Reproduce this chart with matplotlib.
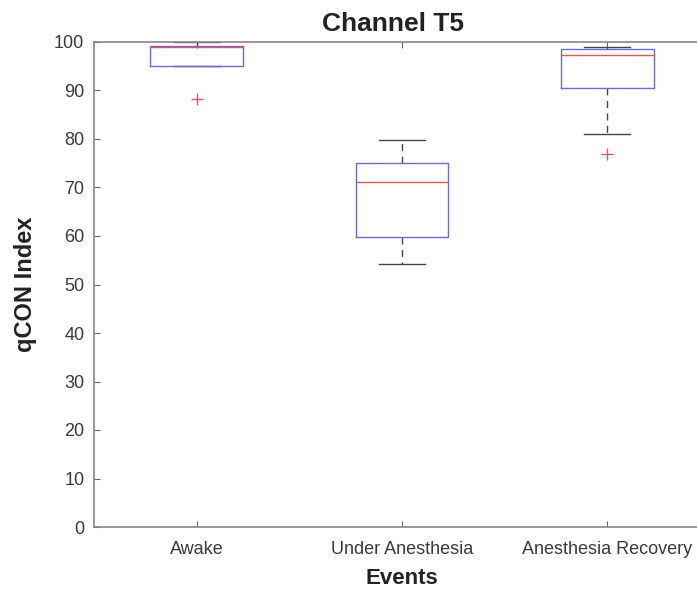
import matplotlib
matplotlib.use("Agg")
import matplotlib.pyplot as plt

categories = ["Awake", "Under Anesthesia", "Anesthesia Recovery"]
q1 = [95.1, 59.7, 90.6]
med = [98.9, 71.2, 97.3]
q3 = [99.2, 75.0, 98.6]
whislo = [95.1, 54.2, 81.0]
whishi = [99.9, 79.8, 99.0]
outliers = [[88.2], [], [77.0]]
yticks = list(range(0, 101, 10))

plt.rcParams['font.family'] = ['Liberation Sans', 'DejaVu Sans']

fig = plt.figure(figsize=(6.97, 5.89), dpi=100)
ax = fig.add_axes([94/697, (589-527)/589, (710-94)/697, (527-42)/589])

stats = []
for i, c in enumerate(categories):
    stats.append(dict(label=c, q1=q1[i], med=med[i], q3=q3[i],
                      whislo=whislo[i], whishi=whishi[i], fliers=outliers[i]))

box_c = '#6b6bd6'
ax.bxp(stats, positions=[1, 2, 3], widths=0.45, capwidths=0.225,
       boxprops=dict(color=box_c, linewidth=1.0, zorder=3),
       medianprops=dict(color='#d65a5a', linewidth=1.0, zorder=4),
       whiskerprops=dict(color='#444444', linewidth=1.0, linestyle=(0, (5, 4)), zorder=2),
       capprops=dict(color='#444444', linewidth=1.0, zorder=2),
       flierprops=dict(marker='+', markeredgecolor='#d65a5a', markersize=8,
                       markeredgewidth=1.0, linestyle='none'))

ax.set_xlim(0.5, 3.5)
ax.set_ylim(0, 100)
ax.set_yticks(yticks)
ax.set_xticks([1, 2, 3])
ax.set_xticklabels(categories)
ax.tick_params(direction='in', top=True, right=True, colors='#666666',
               labelcolor='#3a3a3a', labelsize=13, length=4)
ax.tick_params(axis='x', pad=10)
ax.tick_params(axis='y', pad=7)
for s in ax.spines.values():
    s.set_color('#888888')
    s.set_linewidth(1.2)

ax.set_title("Channel T5", fontsize=19, fontweight='bold', color='#222222',
             pad=8, x=0.485)
ax.set_xlabel("Events", fontsize=16, fontweight='bold', color='#222222', labelpad=7)
ax.set_ylabel("qCON Index", fontsize=17, fontweight='bold', color='#222222', labelpad=12)

fig.savefig("out.png", dpi=100)
